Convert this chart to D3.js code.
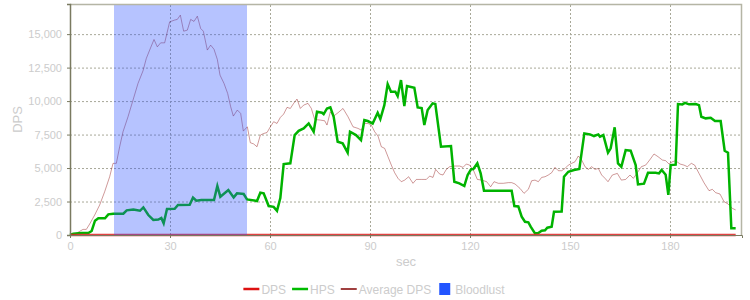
<!DOCTYPE html>
<html lang="en">
<head>
    <meta charset="UTF-8">
    <title>DPS / HPS</title>
    <script src="https://d3js.org/d3.v7.min.js"></script>
    <style>
        body { margin: 0; background: #fff; font-family: "Liberation Sans", Arial, sans-serif; }
        .tick text { fill: #cccccc; font-size: 11px; }
        .grid line { stroke: #a8a898; stroke-dasharray: 2,2; }
    </style>
</head>
<body>
<div id="chart"></div>
<script>
    // seconds / values
    const hps = [
        [0, 0], [1, 100], [3.5, 150], [5.5, 150], [6.5, 300], [7.5, 1070], [8.5, 1250], [10.5, 1250],
        [11.5, 1540], [13, 1590], [16, 1590], [17, 1840], [19, 1900], [21, 1810], [22, 2060], [23.5, 1490],
        [25, 1120], [26.5, 1150], [27.4, 1270], [28.1, 870], [29.1, 1940], [31.4, 1960], [32.4, 2240],
        [35.9, 2260], [36.9, 2790], [37.9, 2560], [39.4, 2610], [43.2, 2610], [44.2, 3660], [45.1, 2860],
        [47.5, 3360], [49.1, 2810], [50.1, 3110], [52.1, 3060], [53.1, 2660], [56.1, 2540], [57.1, 3160],
        [58.1, 3110], [59.6, 2160], [61.1, 2100], [62.1, 1810], [63.1, 2760], [64.1, 5300], [66.1, 5350],
        [67.4, 7460], [68.6, 7780], [70.1, 7960], [71.6, 8330], [73.1, 7710], [74.1, 9200], [75.6, 9130],
        [76.1, 9030], [77.1, 9450], [78.1, 9530], [79.1, 8830], [80.3, 6960], [81.8, 6840], [83.3, 6150],
        [84, 7710], [85.8, 7460], [87.3, 7090], [88.3, 8580], [89.3, 8510], [90.8, 8330], [92.3, 9130],
        [93.1, 8660], [94.3, 9700], [95.3, 11270], [96.3, 10700], [97.6, 10700], [98.3, 10370], [99.3, 11570],
        [100.3, 9630], [101.1, 11120], [103.3, 10990], [104.3, 9530], [105.5, 9480], [106.3, 8210],
        [107.3, 9330], [108.8, 9830], [109.6, 9780], [111.3, 6590], [114.3, 6640], [115.3, 3980],
        [116.8, 3860], [118.3, 3660], [119.3, 4480], [120.3, 4900], [121, 4930], [122.2, 5350], [123.2, 4600],
        [124.2, 3310], [132.5, 3310], [133.3, 2160], [134.5, 2130], [135.5, 1370], [136.5, 990], [137.5, 950],
        [138.2, 620], [139.5, 120], [140.5, 150], [141.5, 320], [142.5, 350], [143.2, 545], [144.5, 620],
        [145.2, 1740], [147.5, 1760], [148.2, 4350], [149.5, 4720], [151.2, 4850], [152.8, 4930], [154.3, 7590],
        [156, 7510], [157.2, 7390], [158.5, 7510], [159, 7340], [160, 7460], [161.4, 6150], [162.2, 6470],
        [163.4, 8040], [164.4, 5350], [165.4, 5100], [166.7, 6340], [168.2, 6300], [169.7, 5220], [170.4, 3780],
        [172.2, 3830], [173.4, 4650], [175.7, 4650], [176.7, 4600], [177.5, 4850], [178.7, 4500], [179.5, 2990],
        [180.2, 5220], [181.7, 5250], [182.4, 9780], [183.7, 9750], [184.5, 9870], [185.7, 9760], [187.7, 9780],
        [188.7, 9700], [189.4, 8830], [190.7, 8710], [192.2, 8750], [193.5, 8510], [195.2, 8510], [196.4, 6290],
        [197.4, 6150], [198.4, 500], [199.7, 500]
    ];

    const avgDps = [
        [0, 0], [1, 0], [2.4, 200], [3.9, 420], [4.9, 420], [5.9, 820], [7.4, 1490], [8.9, 2240], [10.4, 3230],
        [11.9, 4350], [12.9, 5350], [13.9, 5350], [14.9, 6590], [15.9, 7710], [17.4, 8830], [18.9, 10070],
        [20.4, 11320], [21.9, 12260], [22.9, 13190], [23.9, 13810], [25.2, 14600], [26.2, 14050], [27.2, 14350],
        [28.4, 14350], [29.9, 15920], [31.4, 16050], [32.2, 16100], [33.1, 16420], [34.1, 15220], [35.2, 15300],
        [36.2, 16100], [37.2, 15950], [38.2, 16340], [39.2, 15420], [40, 15220], [41.2, 13810], [42.2, 14180],
        [43.2, 13870], [44.2, 13110], [45, 11940], [46.2, 11320], [47.3, 10570], [48.2, 9580], [49, 8880],
        [50.2, 9330], [51.2, 9080], [52, 7760], [53.2, 8080], [54.1, 6890], [55.1, 6800], [56.1, 6590],
        [57.1, 7460], [58.1, 7580], [59.1, 7650], [60.1, 8080], [61.1, 8460], [62.1, 8330], [63.1, 8780],
        [64.1, 9030], [65.1, 9530], [66.1, 9450], [67.1, 9830], [68.1, 10150], [69.1, 9450], [70.1, 9700],
        [71.4, 9830], [72.4, 9450], [73.4, 8630], [75.1, 8580], [76.4, 8530], [77.1, 8210], [78.1, 9200],
        [79.1, 8880], [80.4, 9130], [81.9, 9450], [83.4, 8830], [84.9, 8080], [86.4, 7960], [87.4, 7830],
        [88.4, 8330], [89.4, 8330], [90.4, 8210], [91.4, 7710], [92.4, 7390], [93.4, 6590], [94.4, 6470],
        [95.4, 5840], [96.4, 5220], [97.4, 4650], [98.4, 4230], [99.4, 3980], [100.4, 4100], [101.6, 4350],
        [102.9, 3860], [103.9, 4150], [105.4, 4150], [106.9, 4150], [107.9, 4400], [108.9, 4300], [109.7, 4900],
        [110.9, 4550], [111.9, 4480], [112.9, 4900], [113.9, 5100], [115.4, 5150], [116.9, 5150], [117.9, 5050],
        [118.9, 5300], [119.9, 5220], [121, 4850], [122.2, 4150], [123.5, 4100], [125, 3980], [126.2, 3600],
        [127.2, 3980], [128.5, 3860], [130, 3860], [131.5, 3910], [132.5, 3910], [133.5, 3810], [135, 3480],
        [136.2, 3110], [137.5, 3410], [138.5, 4050], [139.5, 4100], [140.5, 3980], [141.5, 4300], [142.5, 4350],
        [143.5, 4480], [144.5, 4650], [145.5, 5050], [146.5, 4800], [147.5, 4800], [148.5, 4970], [149.5, 5220],
        [150.5, 5350], [151.5, 5470], [152.5, 5900], [153.5, 5600], [154.5, 5100], [155.5, 4900], [156.5, 5100],
        [157.5, 4900], [158.5, 4970], [159.5, 4480], [160.5, 4230], [161.4, 3980], [162.7, 4480], [164.2, 4600],
        [165.4, 4100], [166.7, 4150], [168, 4480], [169, 4230], [170.2, 4650], [171.4, 5100], [172.7, 5220],
        [173.9, 5600], [175.2, 6050], [176.4, 5850], [177.7, 5600], [178.7, 5550], [179.7, 5300], [180.7, 5470],
        [181.7, 5550], [183, 5300], [184.2, 5220], [185.2, 5100], [186.4, 5350], [187.4, 5220], [188.7, 4600],
        [190.2, 3900], [191.7, 3310], [192.7, 3410], [193.7, 3160], [195, 3060], [196.2, 2490], [197.4, 2320],
        [198.7, 1990], [199.7, 1870]
    ];

    const dps = [[0, 0], [199.7, 0]];
    const bloodlust = [13.2, 53.1];

    const xTicks = [0, 30, 60, 90, 120, 150, 180];
    const yTicks = [0, 2500, 5000, 7500, 10000, 12500, 15000];

    const legendItems = [
        { name: "DPS", color: "#dd1111", kind: "line", w: 2.5 },
        { name: "HPS", color: "#00bb00", kind: "line", w: 2.5 },
        { name: "Average DPS", color: "#800000", kind: "line", w: 1.5 },
        { name: "Bloodlust", color: "#2255ff", kind: "box" }
    ];

    const width = 750, height = 300;
    const margin = { top: 4, right: 8, bottom: 65, left: 70 };

    const svg = d3.select("#chart").append("svg")
        .attr("width", width)
        .attr("height", height);

    const x = d3.scaleLinear().domain([0, 201.6]).range([margin.left, width - margin.right]);
    const y = d3.scaleLinear().domain([0, 17250]).range([height - margin.bottom, margin.top]);

    // grid
    svg.append("g").attr("class", "grid")
        .selectAll("line.h").data(yTicks.filter(d => d > 0)).join("line")
        .attr("x1", x.range()[0]).attr("x2", x.range()[1])
        .attr("y1", d => y(d) + 0.5).attr("y2", d => y(d) + 0.5);
    svg.append("g").attr("class", "grid")
        .selectAll("line.v").data(xTicks.filter(d => d > 0)).join("line")
        .attr("y1", y.range()[0]).attr("y2", y.range()[1])
        .attr("x1", d => x(d) + 0.5).attr("x2", d => x(d) + 0.5);

    const line = d3.line().x(d => x(d[0])).y(d => y(d[1]));

    svg.append("path").datum(avgDps)
        .attr("fill", "none").attr("stroke", "#880000").attr("stroke-opacity", 0.4)
        .attr("stroke-width", 1).attr("d", line);

    svg.append("path").datum(hps)
        .attr("fill", "none").attr("stroke", "#00b300")
        .attr("stroke-width", 2.5).attr("d", line);

    svg.append("path").datum(dps)
        .attr("fill", "none").attr("stroke", "#dd2222").attr("stroke-opacity", 0.85)
        .attr("stroke-width", 2.5).attr("d", line);

    // bloodlust window on top, see-through
    svg.append("rect")
        .attr("x", x(bloodlust[0])).attr("width", x(bloodlust[1]) - x(bloodlust[0]))
        .attr("y", y.range()[1]).attr("height", y.range()[0] - y.range()[1])
        .attr("fill", "#2a4fff").attr("fill-opacity", 0.34);

    // frame
    svg.append("path")
        .attr("d", `M${x.range()[0]},${y.range()[1] + 0.5}H${x.range()[1] - 0.5}V${y.range()[0]}`)
        .attr("fill", "none").attr("stroke", "#b5b5a5").attr("stroke-width", 1.5);

    const xAxis = svg.append("g")
        .attr("transform", `translate(0,${y.range()[0]})`)
        .call(d3.axisBottom(x).tickValues(xTicks).tickSize(3).tickPadding(4));
    xAxis.select(".domain").attr("stroke", "#7a7a60");
    xAxis.selectAll(".tick line").attr("stroke", "#7a7a60");

    const yAxis = svg.append("g")
        .attr("transform", `translate(${margin.left},0)`)
        .call(d3.axisLeft(y).tickValues(yTicks).tickSize(3).tickPadding(5).tickFormat(d3.format(",")));
    yAxis.select(".domain").attr("stroke", "#7a7a60").attr("stroke-width", 1.5);
    yAxis.selectAll(".tick line").attr("stroke", "#7a7a60");

    svg.append("text")
        .attr("transform", `translate(22,${(y.range()[0] + y.range()[1]) / 2}) rotate(-90)`)
        .attr("text-anchor", "middle").attr("fill", "#cccccc").attr("font-size", 13)
        .text("DPS");

    svg.append("text")
        .attr("x", (x.range()[0] + x.range()[1]) / 2).attr("y", 266)
        .attr("text-anchor", "middle").attr("fill", "#cccccc").attr("font-size", 13)
        .text("sec");

    // legend
    const legend = svg.append("g").attr("transform", "translate(0,289)");
    let lx = 0;
    legendItems.forEach(item => {
        const g = legend.append("g").attr("transform", `translate(${lx},0)`);
        if (item.kind === "line") {
            g.append("line").attr("x1", 0).attr("x2", 16).attr("y1", 0).attr("y2", 0)
                .attr("stroke", item.color).attr("stroke-width", item.w);
        } else {
            g.append("rect").attr("x", 2).attr("y", -6).attr("width", 11).attr("height", 12)
                .attr("fill", item.color);
        }
        const t = g.append("text").attr("x", 18).attr("y", 4.5)
            .attr("fill", "#cccccc").attr("font-size", 12).text(item.name);
        lx += 18 + t.node().getComputedTextLength() + 6;
    });
    const lw = lx - 6;
    legend.attr("transform", `translate(${(width - lw) / 2 - 1},289)`);
</script>
</body>
</html>
